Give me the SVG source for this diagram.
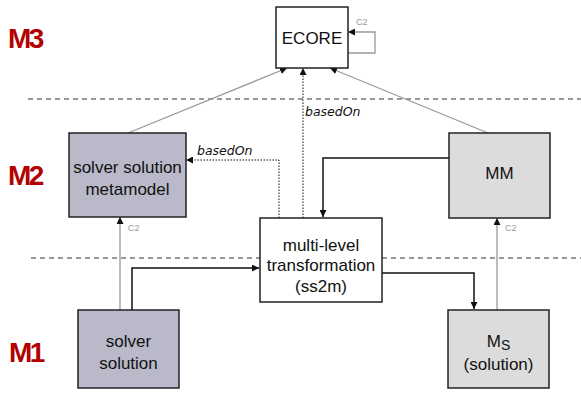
<svg xmlns="http://www.w3.org/2000/svg" width="581" height="397" viewBox="0 0 581 397">
<style>
.box{stroke:#222;stroke-width:1.5}
.t{font-family:"Liberation Sans",Arial,sans-serif;font-size:17px;fill:#111;text-anchor:middle}
.lvl{font-family:"Liberation Sans",Arial,sans-serif;font-size:28px;font-weight:bold;fill:#b30000;letter-spacing:-2.5px}
.c2{font-family:"Liberation Sans",Arial,sans-serif;font-size:9px;fill:#999}
.lab{font-family:"DejaVu Sans",sans-serif;font-size:12.5px;font-style:italic;fill:#111}
.blk{fill:none;stroke:#111;stroke-width:1.5}
.gry{fill:none;stroke:#999;stroke-width:1.3}
.dot{fill:none;stroke:#111;stroke-width:1;stroke-dasharray:1.5 1.5}
.dash{fill:none;stroke:#333;stroke-width:1;stroke-dasharray:5 4}
</style>
<defs>
<marker id="ab" viewBox="0 0 10 10" refX="10" refY="5" markerWidth="7" markerHeight="7" markerUnits="userSpaceOnUse" orient="auto"><path d="M0,0L10,5L0,10z" fill="#111"/></marker>
</defs>
<text class="lvl" x="8" y="48">M3</text>
<text class="lvl" x="8" y="185">M2</text>
<text class="lvl" x="9" y="362">M1</text>
<line class="dash" x1="28" y1="99" x2="581" y2="99"/>
<line class="dash" x1="31" y1="258" x2="581" y2="258"/>
<g id="connectors">
<path class="gry" d="M128,133L287,68" marker-end="url(#ab)"/>
<path class="gry" d="M488,133L330,68" marker-end="url(#ab)"/>
<path class="gry" d="M348,53H375V32H348" marker-end="url(#ab)"/>
<text class="c2" x="356" y="25">C2</text>
<path class="dot" d="M303,218V68" marker-end="url(#ab)"/>
<text class="lab" x="305" y="116">basedOn</text>
<path class="dot" d="M279,218V160H186" marker-end="url(#ab)"/>
<text class="lab" x="197" y="155">basedOn</text>
<path class="blk" d="M449,158H323V217" marker-end="url(#ab)"/>
<path class="gry" d="M120,310V217" marker-end="url(#ab)"/>
<text class="c2" x="128" y="231">C2</text>
<path class="blk" d="M132,310V268H259" marker-end="url(#ab)"/>
<path class="blk" d="M382,273H474V309" marker-end="url(#ab)"/>
<path class="gry" d="M497,310V218" marker-end="url(#ab)"/>
<text class="c2" x="505" y="231">C2</text>
</g>
<g id="ecore"><rect class="box" x="276" y="7" width="72" height="61" fill="#fff"/><text class="t" x="312" y="44">ECORE</text></g>
<g id="ssm"><rect class="box" x="69" y="133" width="117" height="84" fill="#b9b9c9"/><text class="t" x="127.5" y="173">solver solution</text><text class="t" x="127.5" y="195">metamodel</text></g>
<g id="mm"><rect class="box" x="449" y="133" width="101" height="85" fill="#dcdcdc"/><text class="t" x="499.5" y="179">MM</text></g>
<g id="mlt"><rect class="box" x="260" y="218" width="122" height="84" fill="#fff"/><text class="t" x="321" y="251">multi-level</text><text class="t" x="321" y="271">transformation</text><text class="t" x="321" y="292">(ss2m)</text></g>
<g id="ss"><rect class="box" x="78" y="310" width="101" height="78" fill="#b9b9c9"/><text class="t" x="128.5" y="347">solver</text><text class="t" x="128.5" y="369">solution</text></g>
<g id="ms"><rect class="box" x="448" y="310" width="101" height="78" fill="#dcdcdc"/><text class="t" x="498.5" y="347">M<tspan font-size="14" dy="3">S</tspan></text><text class="t" x="498.5" y="370">(solution)</text></g>
</svg>
